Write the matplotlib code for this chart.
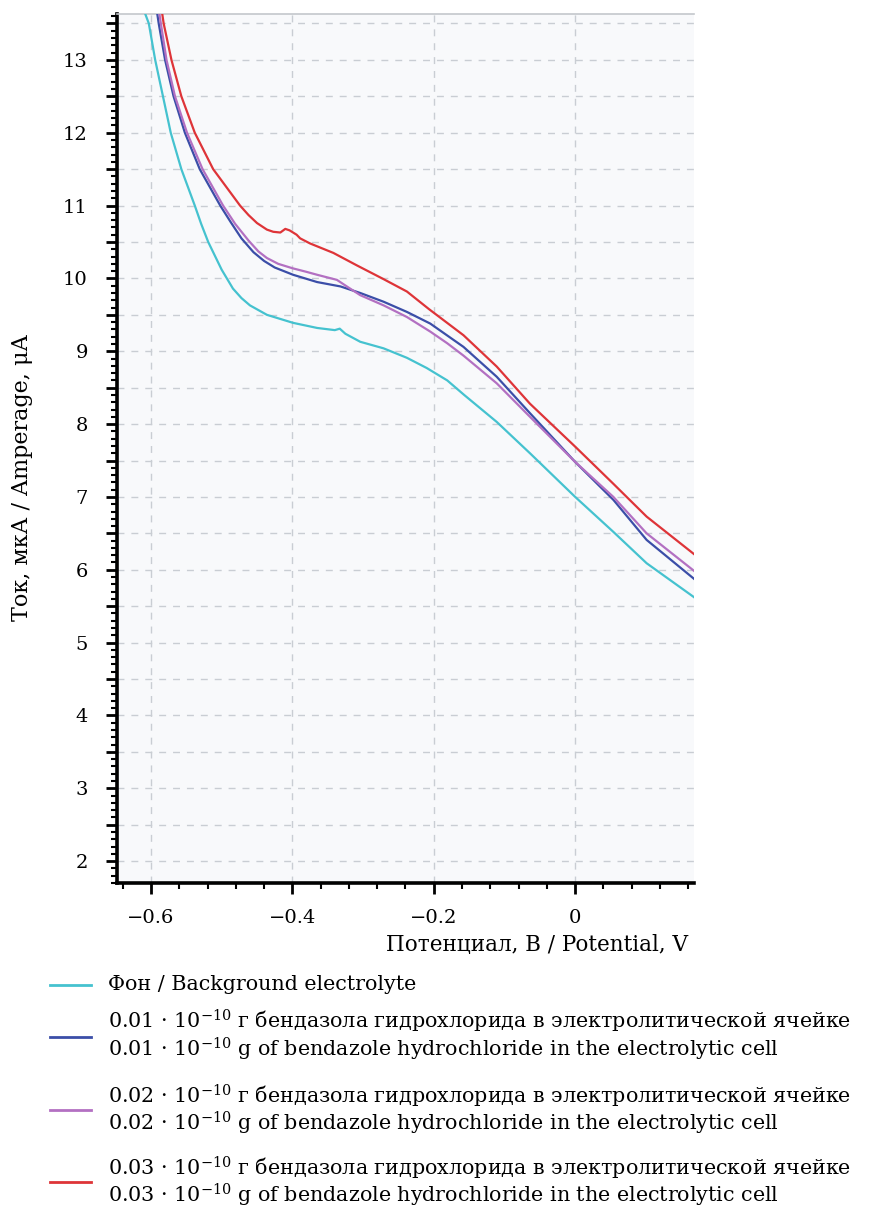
import numpy as np
import matplotlib
matplotlib.use("Agg")
import matplotlib.pyplot as plt
from matplotlib.ticker import MultipleLocator, FuncFormatter
from matplotlib.lines import Line2D

plt.rcParams['font.family'] = ['DejaVu Serif']
plt.rcParams['mathtext.fontset'] = 'dejavuserif'

W, H = 869, 1207

# background electrolyte
cyan_x = [-0.616, -0.608, -0.603, -0.594, -0.583, -0.572, -0.557, -0.538, -0.529, -0.519,
          -0.500, -0.484, -0.472, -0.460, -0.436, -0.399, -0.365, -0.340, -0.333, -0.325,
          -0.304, -0.271, -0.238, -0.210, -0.181, -0.157, -0.111, -0.064, 0.000, 0.054,
          0.101, 0.170]
cyan_y = [14.2, 13.63, 13.5, 13.0, 12.5, 12.0, 11.5, 11.0, 10.75, 10.5,
          10.12, 9.86, 9.73, 9.63, 9.50, 9.39, 9.32, 9.29, 9.31, 9.24,
          9.13, 9.04, 8.91, 8.77, 8.60, 8.40, 8.03, 7.60, 7.00, 6.52,
          6.09, 5.61]

# 0.01
blue_x = [-0.601, -0.591, -0.589, -0.580, -0.568, -0.552, -0.531, -0.502, -0.487, -0.472,
          -0.455, -0.440, -0.425, -0.399, -0.365, -0.332, -0.304, -0.271, -0.238, -0.205,
          -0.158, -0.111, -0.064, 0.000, 0.054, 0.101, 0.170]
blue_y = [14.2, 13.63, 13.5, 13.0, 12.5, 12.0, 11.5, 11.0, 10.77, 10.55,
          10.36, 10.24, 10.15, 10.05, 9.95, 9.89, 9.80, 9.68, 9.54, 9.38,
          9.06, 8.65, 8.15, 7.48, 6.96, 6.41, 5.86]

# 0.02
purple_x = [-0.599, -0.588, -0.586, -0.578, -0.566, -0.549, -0.527, -0.498, -0.481, -0.462,
            -0.448, -0.436, -0.420, -0.400, -0.380, -0.365, -0.337, -0.323, -0.304, -0.271,
            -0.238, -0.205, -0.181, -0.158, -0.111, -0.064, 0.000, 0.054, 0.101, 0.170]
purple_y = [14.2, 13.63, 13.5, 13.0, 12.5, 12.0, 11.5, 11.0, 10.75, 10.52,
            10.37, 10.28, 10.20, 10.14, 10.09, 10.05, 9.98, 9.89, 9.77, 9.63,
            9.47, 9.27, 9.11, 8.94, 8.56, 8.10, 7.48, 7.00, 6.50, 5.97]

# 0.03
red_x = [-0.590, -0.584, -0.582, -0.571, -0.557, -0.538, -0.512, -0.474, -0.462, -0.450,
         -0.436, -0.427, -0.417, -0.410, -0.404, -0.394, -0.389, -0.375, -0.342, -0.309,
         -0.271, -0.238, -0.207, -0.158, -0.111, -0.064, 0.000, 0.054, 0.101, 0.170]
red_y = [14.2, 13.63, 13.5, 13.0, 12.5, 12.0, 11.5, 11.0, 10.87, 10.76,
         10.67, 10.64, 10.63, 10.68, 10.66, 10.60, 10.55, 10.48, 10.35, 10.18,
         9.99, 9.82, 9.58, 9.22, 8.79, 8.28, 7.69, 7.18, 6.73, 6.20]

COLORS = ['#45c2cf', '#3b4ea8', '#b370c2', '#de3438']

LABELS = [
    ["Фон / Background electrolyte"],
    ["0.01 · 10$^{-10}$ г бендазола гидрохлорида в электролитической ячейке",
     "0.01 · 10$^{-10}$ g of bendazole hydrochloride in the electrolytic cell"],
    ["0.02 · 10$^{-10}$ г бендазола гидрохлорида в электролитической ячейке",
     "0.02 · 10$^{-10}$ g of bendazole hydrochloride in the electrolytic cell"],
    ["0.03 · 10$^{-10}$ г бендазола гидрохлорида в электролитической ячейке",
     "0.03 · 10$^{-10}$ g of bendazole hydrochloride in the electrolytic cell"],
]

fig = plt.figure(figsize=(W / 100, H / 100), dpi=100)
ax = fig.add_axes([117 / W, 1 - 883 / H, (694 - 117) / W, (883 - 14) / H])
ax.set_facecolor('#f8f9fb')

series = [(cyan_x, cyan_y), (blue_x, blue_y), (purple_x, purple_y), (red_x, red_y)]
for (xs, ys), c in zip(series, COLORS):
    ax.plot(xs, ys, color=c, lw=1.6, zorder=3)

ax.set_xlim(-0.648, 0.168)
ax.set_ylim(1.70, 13.63)

ax.xaxis.set_major_locator(MultipleLocator(0.2))
ax.xaxis.set_minor_locator(MultipleLocator(0.04))
ax.yaxis.set_major_locator(MultipleLocator(0.5))
ax.yaxis.set_minor_locator(MultipleLocator(0.1))


def fmt_x(v, pos):
    if abs(v) < 1e-9:
        return "0"
    return f"{v:.1f}".replace("-", "\u2212")


def fmt_y(v, pos):
    if abs(v - round(v)) < 1e-6:
        return f"{int(round(v))}"
    return ""


ax.xaxis.set_major_formatter(FuncFormatter(fmt_x))
ax.yaxis.set_major_formatter(FuncFormatter(fmt_y))

ax.grid(True, which='major', ls=(0, (5, 5)), color='#c9cdd3', lw=1.0)
ax.set_axisbelow(True)

for s in ['left', 'bottom']:
    ax.spines[s].set_linewidth(2.6)
    ax.spines[s].set_color('black')
ax.spines['right'].set_visible(False)
ax.spines['top'].set_color('#c4c7cc')
ax.spines['top'].set_linewidth(1.2)

ax.tick_params(which='major', direction='out', length=8, width=2, labelsize=14)
ax.tick_params(which='minor', direction='out', length=4, width=1.5)
ax.tick_params(axis='y', which='major', pad=13)
ax.tick_params(axis='x', which='major', pad=11)

fig.text(22 / W, 1 - 478 / H, "Ток, мкА / Amperage, μA", rotation=90,
         ha='center', va='center', fontsize=16)
fig.text(688 / W, 1 - 945 / H, "Потенциал, В / Potential, V",
         ha='right', va='center', fontsize=15.5)

# legend drawn by hand to keep the uneven spacing of the original
text_rows = [[985], [1021, 1049], [1096, 1123], [1168, 1195]]
line_rows = [985, 1037, 1110, 1182]
for lab, rows, ly, c in zip(LABELS, text_rows, line_rows, COLORS):
    fig.add_artist(Line2D([50 / W, 91 / W], [1 - ly / H, 1 - ly / H],
                          transform=fig.transFigure, color=c, lw=2))
    for t, ty in zip(lab, rows):
        fig.text(108 / W, 1 - ty / H, t, ha='left', va='center', fontsize=14.9)

fig.savefig("out.png", dpi=100, facecolor='white')
